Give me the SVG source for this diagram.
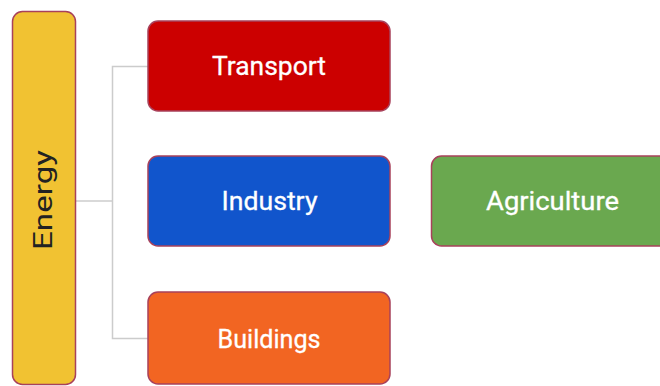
<svg xmlns="http://www.w3.org/2000/svg" width="660" height="386" viewBox="0 0 660 386">
  <style>
    .box { stroke: #a8415b; stroke-width: 1.5; }
    .lbl { font-family: Roboto, "Liberation Sans", sans-serif; font-size: 26px; font-weight: 400; fill: #ffffff; text-anchor: middle; stroke: #ffffff; stroke-width: 0.3; }
    .dark { fill: #222222; stroke: none; }
    .link { fill: none; stroke: #cccccc; stroke-width: 1.5; }
  </style>
  <rect width="660" height="386" fill="#ffffff"/>

  <g id="connectors">
    <path class="link" d="M76 201 H112.5"/>
    <path class="link" d="M148 66.5 H112.5 V338.5 H148"/>
  </g>

  <g id="energy">
    <rect class="box" x="12.5" y="11.5" width="63" height="373" rx="10" fill="#f1c232"/>
    <text class="lbl dark" transform="translate(52 200) rotate(-90)" textLength="100" lengthAdjust="spacingAndGlyphs">Energy</text>
  </g>

  <g id="transport">
    <rect class="box" x="148" y="21" width="242" height="90" rx="10" fill="#cc0000"/>
    <text class="lbl" x="269" y="75" textLength="114" lengthAdjust="spacingAndGlyphs">Transport</text>
  </g>

  <g id="industry">
    <rect class="box" x="148" y="156" width="242" height="90" rx="10" fill="#1155cc"/>
    <text class="lbl" x="269.5" y="210" textLength="96" lengthAdjust="spacingAndGlyphs">Industry</text>
  </g>

  <g id="buildings">
    <rect class="box" x="148" y="292" width="242" height="92" rx="10" fill="#f26522"/>
    <text class="lbl" x="269" y="348" textLength="103" lengthAdjust="spacingAndGlyphs">Buildings</text>
  </g>

  <g id="agriculture">
    <rect class="box" x="431.5" y="156" width="242" height="90" rx="10" fill="#6aa84f"/>
    <text class="lbl" x="552.5" y="210" textLength="133" lengthAdjust="spacingAndGlyphs">Agriculture</text>
  </g>
</svg>
